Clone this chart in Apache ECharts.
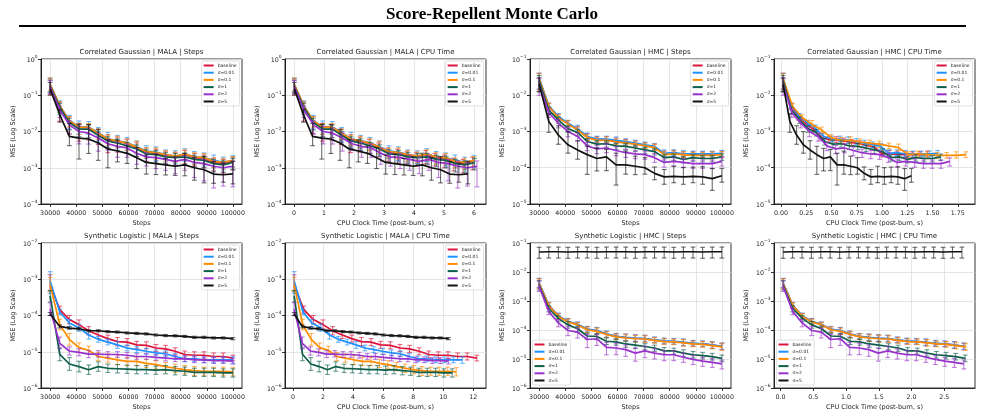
<!DOCTYPE html>
<html><head><meta charset="utf-8">
<script src="https://cdn.jsdelivr.net/npm/echarts/dist/echarts.min.js"></script>
<style>html,body{margin:0;padding:0;background:#fff}#main{width:985px;height:420px}</style>
</head><body><div id="main"></div>
<script>
// ---------------- DATA ----------------
const seriesNames = ['baseline', 'σ=0.01', 'σ=0.1', 'σ=1', 'σ=2', 'σ=5'];
const steps = [30000, 33684, 37368, 41053, 44737, 48421, 52105, 55789, 59474, 63158, 66842, 70526, 74211, 77895, 81579, 85263, 88947, 92632, 96316, 100000];
const stepTicks = [30000, 40000, 50000, 60000, 70000, 80000, 90000, 100000];

// Correlated Gaussian | MALA
const cgMalaMSE = [
  [0.19, 0.050, 0.019, 0.013, 0.0128, 0.0088, 0.0060, 0.0054, 0.0047, 0.0036, 0.0027, 0.0025, 0.0022, 0.0020, 0.0023, 0.0019, 0.0018, 0.0014, 0.0013, 0.0015],
  [0.20, 0.052, 0.020, 0.0135, 0.0134, 0.0092, 0.0063, 0.0056, 0.0049, 0.0038, 0.0029, 0.0027, 0.0023, 0.0021, 0.0024, 0.0020, 0.0019, 0.0016, 0.0014, 0.0016],
  [0.20, 0.051, 0.0197, 0.0132, 0.0132, 0.0090, 0.0062, 0.0055, 0.0048, 0.0037, 0.0028, 0.0026, 0.0023, 0.0021, 0.0024, 0.0020, 0.0019, 0.0015, 0.0014, 0.0016],
  [0.18, 0.046, 0.0177, 0.0116, 0.0116, 0.0078, 0.0055, 0.0048, 0.0040, 0.0033, 0.0024, 0.0023, 0.0020, 0.0019, 0.0020, 0.0017, 0.0016, 0.0013, 0.0012, 0.0014],
  [0.17, 0.039, 0.0152, 0.0100, 0.0090, 0.0066, 0.0046, 0.0039, 0.0035, 0.0025, 0.0020, 0.0019, 0.0017, 0.0015, 0.0017, 0.0014, 0.0013, 0.0011, 0.0010, 0.0011],
  [0.15, 0.029, 0.0073, 0.0066, 0.0062, 0.0048, 0.0033, 0.0029, 0.0025, 0.0019, 0.0014, 0.0013, 0.0012, 0.0011, 0.0012, 0.0010, 0.00088, 0.00067, 0.00064, 0.00068]
];
const cgMalaUp = [
  [1.5, 1.3, 1.35, 1.3, 1.25, 1.3, 1.35, 1.3, 1.3, 1.35, 1.3, 1.3, 1.25, 1.3, 1.3, 1.3, 1.25, 1.3, 1.3, 1.3],
  [1.5, 1.35, 1.4, 1.45, 1.4, 1.4, 1.5, 1.4, 1.4, 1.45, 1.4, 1.4, 1.35, 1.4, 1.4, 1.4, 1.35, 1.4, 1.4, 1.35],
  [1.5, 1.3, 1.3, 1.25, 1.25, 1.3, 1.3, 1.35, 1.3, 1.45, 1.25, 1.35, 1.3, 1.3, 1.3, 1.3, 1.3, 1.25, 1.3, 1.25],
  [1.45, 1.3, 1.3, 1.35, 1.3, 1.3, 1.3, 1.3, 1.25, 1.3, 1.3, 1.3, 1.3, 1.3, 1.25, 1.3, 1.3, 1.3, 1.3, 1.3],
  [1.5, 1.3, 1.3, 1.4, 1.4, 1.4, 1.3, 1.3, 1.3, 1.4, 1.3, 1.3, 1.3, 1.3, 1.3, 1.4, 1.3, 1.4, 1.4, 1.4],
  [1.5, 1.4, 2.3, 2.4, 2.5, 2.4, 1.8, 2.0, 1.6, 1.9, 1.6, 1.8, 1.5, 1.8, 2.1, 1.9, 2.3, 2.2, 2.1, 2.2]
];
const cgMalaDn = [
  [1.8, 2.6, 2.2, 2.4, 2.2, 2.0, 2.3, 2.0, 1.9, 1.8, 1.8, 1.9, 1.7, 1.8, 1.8, 1.7, 1.8, 1.7, 1.8, 1.7],
  [1.6, 1.6, 1.7, 1.6, 1.6, 1.7, 1.7, 1.6, 1.6, 1.6, 1.6, 1.7, 1.6, 1.6, 1.6, 1.6, 1.7, 1.6, 1.6, 1.6],
  [1.5, 1.5, 1.5, 1.6, 1.5, 1.5, 1.5, 1.5, 1.6, 1.5, 1.5, 1.5, 1.5, 1.5, 1.5, 1.6, 1.5, 1.5, 1.5, 1.5],
  [1.5, 1.6, 1.6, 1.6, 1.7, 1.6, 1.6, 1.6, 1.6, 1.6, 1.7, 1.6, 1.6, 1.6, 1.6, 1.6, 1.6, 1.7, 1.6, 1.6],
  [1.5, 1.6, 1.8, 2.2, 2.0, 2.3, 1.5, 2.0, 1.8, 2.0, 1.8, 2.0, 2.0, 2.2, 2.0, 2.6, 3.0, 4.0, 3.2, 3.7],
  [1.5, 1.6, 1.8, 3.8, 2.5, 3.0, 3.3, 2.0, 1.9, 2.0, 2.1, 2.0, 1.9, 1.8, 2.0, 2.2, 2.3, 1.8, 1.6, 1.9]
];
const cgMalaCpuStart = 0.01;
const cgMalaCpuEnd = [5.95, 6.0, 6.0, 6.02, 6.1, 5.8];

// Correlated Gaussian | HMC
const cgHmcMSE = [
  [0.029, 0.0050, 0.0025, 0.00165, 0.00115, 0.00070, 0.00060, 0.00060, 0.00055, 0.00050, 0.00046, 0.00041, 0.00037, 0.00024, 0.00025, 0.00023, 0.00023, 0.00023, 0.00023, 0.00024],
  [0.030, 0.0051, 0.0026, 0.0017, 0.0012, 0.00073, 0.00062, 0.00062, 0.00057, 0.00053, 0.00048, 0.00043, 0.00039, 0.00025, 0.00026, 0.00024, 0.00024, 0.00024, 0.00024, 0.00025],
  [0.028, 0.0049, 0.0024, 0.0016, 0.0011, 0.00068, 0.00057, 0.00057, 0.00052, 0.00048, 0.00045, 0.00040, 0.00036, 0.00023, 0.00024, 0.00023, 0.00022, 0.00022, 0.00022, 0.00023],
  [0.025, 0.0039, 0.0021, 0.0012, 0.00094, 0.00053, 0.00045, 0.00046, 0.00040, 0.00039, 0.00035, 0.00031, 0.00028, 0.00019, 0.00020, 0.00017, 0.00019, 0.00018, 0.00018, 0.00020],
  [0.020, 0.0033, 0.0017, 0.0010, 0.00073, 0.00040, 0.00033, 0.00035, 0.00030, 0.00026, 0.00024, 0.00023, 0.00019, 0.00014, 0.00015, 0.00014, 0.00013, 0.00013, 0.00013, 0.00015],
  [0.020, 0.0019, 0.00080, 0.00043, 0.00031, 0.00023, 0.00018, 0.00020, 0.00012, 0.00012, 0.00011, 0.00010, 0.000070, 0.000056, 0.000058, 0.000056, 0.000058, 0.000056, 0.000050, 0.000060]
];
const cgHmcUp = [
  [1.4, 1.2, 1.2, 1.2, 1.2, 1.25, 1.2, 1.2, 1.2, 1.2, 1.2, 1.2, 1.2, 1.2, 1.2, 1.2, 1.2, 1.2, 1.2, 1.2],
  [1.35, 1.2, 1.2, 1.2, 1.25, 1.25, 1.2, 1.2, 1.25, 1.2, 1.2, 1.2, 1.2, 1.25, 1.2, 1.25, 1.2, 1.2, 1.2, 1.2],
  [1.4, 1.2, 1.2, 1.25, 1.2, 1.2, 1.2, 1.25, 1.2, 1.2, 1.2, 1.2, 1.25, 1.2, 1.2, 1.2, 1.2, 1.2, 1.25, 1.2],
  [1.4, 1.2, 1.2, 1.2, 1.2, 1.2, 1.25, 1.2, 1.2, 1.2, 1.2, 1.2, 1.2, 1.2, 1.2, 1.2, 1.2, 1.2, 1.2, 1.2],
  [1.5, 1.25, 1.25, 1.3, 1.25, 1.25, 1.25, 1.3, 1.25, 1.25, 1.25, 1.25, 1.3, 1.25, 1.25, 1.25, 1.25, 1.25, 1.25, 1.25],
  [1.5, 1.6, 1.8, 2.3, 1.8, 1.7, 1.9, 1.6, 2.1, 2.4, 1.9, 1.9, 1.5, 1.6, 1.9, 1.8, 1.8, 1.9, 1.9, 1.6]
];
const cgHmcDn = [
  [2.0, 1.2, 1.2, 1.2, 1.2, 1.2, 1.2, 1.2, 1.2, 1.2, 1.2, 1.2, 1.2, 1.2, 1.2, 1.2, 1.2, 1.2, 1.2, 1.2],
  [2.0, 1.2, 1.2, 1.2, 1.2, 1.25, 1.2, 1.2, 1.2, 1.2, 1.2, 1.2, 1.2, 1.2, 1.2, 1.2, 1.2, 1.2, 1.2, 1.2],
  [2.0, 1.2, 1.25, 1.2, 1.2, 1.2, 1.2, 1.2, 1.2, 1.2, 1.25, 1.2, 1.2, 1.2, 1.2, 1.2, 1.2, 1.2, 1.2, 1.2],
  [2.0, 1.25, 1.25, 1.25, 1.25, 1.25, 1.25, 1.25, 1.25, 1.25, 1.25, 1.25, 1.25, 1.25, 1.25, 1.25, 1.25, 1.25, 1.25, 1.25],
  [2.0, 1.35, 1.35, 1.4, 1.35, 1.35, 1.35, 1.35, 1.4, 1.35, 1.35, 1.35, 1.35, 1.35, 1.35, 1.35, 1.35, 1.35, 1.35, 1.35],
  [1.6, 2.0, 1.8, 1.7, 1.8, 3.5, 2.2, 2.4, 3.6, 1.8, 1.7, 1.5, 1.5, 1.6, 1.5, 1.6, 1.5, 1.6, 2.1, 1.5]
];
const cgHmcCpuStart = 0.02;
const cgHmcCpuEnd = [1.45, 1.55, 1.83, 1.58, 1.67, 1.29];

// Synthetic Logistic | MALA
const slMalaMSE = [
  [7.0e-4, 1.45e-4, 7.7e-5, 5.6e-5, 3.8e-5, 2.9e-5, 2.3e-5, 1.9e-5, 1.85e-5, 1.55e-5, 1.5e-5, 1.27e-5, 1.2e-5, 1.03e-5, 8.4e-6, 8.0e-6, 8.0e-6, 7.4e-6, 7.4e-6, 6.7e-6],
  [9.0e-4, 1.25e-4, 6.2e-5, 4.6e-5, 2.9e-5, 2.2e-5, 1.85e-5, 1.55e-5, 1.27e-5, 1.15e-5, 1.03e-5, 9.3e-6, 8.8e-6, 7.4e-6, 6.4e-6, 6.4e-6, 6.0e-6, 6.0e-6, 6.0e-6, 6.0e-6],
  [7.0e-4, 5.6e-5, 2.2e-5, 1.3e-5, 1.1e-5, 7.4e-6, 6.7e-6, 6.0e-6, 5.4e-6, 5.4e-6, 4.8e-6, 4.4e-6, 3.9e-6, 3.5e-6, 3.2e-6, 3.0e-6, 2.9e-6, 2.9e-6, 2.9e-6, 2.8e-6],
  [3.5e-4, 8.5e-6, 4.6e-6, 3.9e-6, 3.2e-6, 3.9e-6, 3.5e-6, 3.4e-6, 3.3e-6, 3.2e-6, 3.2e-6, 3.1e-6, 3.2e-6, 3.0e-6, 2.9e-6, 2.7e-6, 2.7e-6, 2.7e-6, 2.6e-6, 2.6e-6],
  [1.5e-4, 1.7e-5, 1.05e-5, 9.6e-6, 8.6e-6, 8.6e-6, 8.4e-6, 8.4e-6, 8.0e-6, 7.4e-6, 7.4e-6, 7.0e-6, 6.7e-6, 6.4e-6, 6.4e-6, 6.0e-6, 6.0e-6, 5.7e-6, 5.7e-6, 5.5e-6],
  [1.1e-4, 5.0e-5, 4.5e-5, 4.3e-5, 3.8e-5, 3.8e-5, 3.6e-5, 3.5e-5, 3.3e-5, 3.2e-5, 3.1e-5, 2.9e-5, 2.8e-5, 2.75e-5, 2.65e-5, 2.5e-5, 2.5e-5, 2.4e-5, 2.4e-5, 2.3e-5]
];
const slMalaUp = [
  [1.9, 1.25, 1.3, 1.35, 1.3, 1.25, 1.25, 1.3, 1.25, 1.25, 1.25, 1.25, 1.25, 1.25, 1.25, 1.25, 1.25, 1.25, 1.25, 1.2],
  [1.8, 1.2, 1.25, 1.25, 1.3, 1.2, 1.2, 1.25, 1.2, 1.2, 1.2, 1.2, 1.2, 1.2, 1.2, 1.2, 1.2, 1.2, 1.2, 1.2],
  [1.6, 1.4, 1.45, 1.35, 1.3, 1.3, 1.3, 1.35, 1.3, 1.3, 1.3, 1.3, 1.3, 1.3, 1.3, 1.3, 1.3, 1.3, 1.3, 1.3],
  [1.4, 1.5, 1.5, 1.4, 1.35, 1.35, 1.3, 1.3, 1.3, 1.3, 1.3, 1.3, 1.3, 1.3, 1.3, 1.3, 1.3, 1.3, 1.3, 1.3],
  [1.5, 1.5, 1.3, 1.25, 1.25, 1.25, 1.2, 1.2, 1.2, 1.2, 1.2, 1.2, 1.2, 1.2, 1.2, 1.2, 1.2, 1.2, 1.2, 1.2],
  [1.1, 1.1, 1.08, 1.08, 1.07, 1.07, 1.07, 1.07, 1.07, 1.07, 1.07, 1.07, 1.07, 1.07, 1.07, 1.07, 1.07, 1.07, 1.07, 1.07]
];
const slMalaDn = [
  [1.5, 1.25, 1.3, 1.3, 1.3, 1.25, 1.25, 1.3, 1.25, 1.25, 1.25, 1.25, 1.25, 1.25, 1.25, 1.25, 1.25, 1.25, 1.25, 1.2],
  [2.2, 1.2, 1.25, 1.25, 1.3, 1.2, 1.2, 1.25, 1.2, 1.2, 1.2, 1.2, 1.2, 1.2, 1.2, 1.2, 1.2, 1.2, 1.2, 1.25],
  [1.5, 1.4, 1.45, 1.35, 1.3, 1.3, 1.3, 1.35, 1.3, 1.3, 1.3, 1.3, 1.3, 1.3, 1.3, 1.35, 1.3, 1.3, 1.3, 1.3],
  [1.5, 1.5, 1.5, 1.4, 1.35, 1.35, 1.3, 1.3, 1.3, 1.3, 1.3, 1.3, 1.3, 1.3, 1.3, 1.3, 1.3, 1.3, 1.3, 1.3],
  [1.5, 1.4, 1.3, 1.25, 1.25, 1.2, 1.2, 1.2, 1.2, 1.2, 1.2, 1.2, 1.2, 1.2, 1.2, 1.2, 1.2, 1.2, 1.2, 1.2],
  [1.1, 1.1, 1.08, 1.08, 1.07, 1.07, 1.07, 1.07, 1.07, 1.07, 1.07, 1.07, 1.07, 1.07, 1.07, 1.07, 1.07, 1.07, 1.07, 1.07]
];
const slMalaCpuStart = 0.08;
const slMalaCpuEnd = [12.24, 11.27, 10.87, 10.6, 10.35, 10.35];

// Synthetic Logistic | HMC
const slHmcMSE = [
  [4.1e-3, 7.1e-4, 3.0e-4, 1.95e-4, 1.55e-4, 1.05e-4, 9.3e-5, 7.2e-5, 6.0e-5, 5.5e-5, 5.2e-5, 5.0e-5, 4.5e-5, 4.1e-5, 4.0e-5, 3.7e-5, 3.4e-5, 3.3e-5, 3.0e-5, 2.7e-5],
  [4.2e-3, 7.2e-4, 3.05e-4, 2.0e-4, 1.58e-4, 1.07e-4, 9.5e-5, 7.4e-5, 6.1e-5, 5.6e-5, 5.3e-5, 5.1e-5, 4.6e-5, 4.2e-5, 4.1e-5, 3.8e-5, 3.5e-5, 3.35e-5, 3.05e-5, 2.75e-5],
  [4.0e-3, 6.9e-4, 2.9e-4, 1.9e-4, 1.5e-4, 1.02e-4, 9.0e-5, 7.0e-5, 5.8e-5, 5.3e-5, 5.0e-5, 4.9e-5, 4.4e-5, 4.0e-5, 3.9e-5, 3.6e-5, 3.3e-5, 3.2e-5, 2.9e-5, 2.6e-5],
  [3.5e-3, 5.5e-4, 2.5e-4, 1.5e-4, 1.1e-4, 6.2e-5, 6.0e-5, 4.1e-5, 3.9e-5, 3.3e-5, 3.0e-5, 2.7e-5, 2.4e-5, 1.9e-5, 1.9e-5, 1.6e-5, 1.4e-5, 1.3e-5, 1.2e-5, 1.05e-5],
  [3.2e-3, 4.4e-4, 1.75e-4, 9.6e-5, 8.5e-5, 4.7e-5, 5.0e-5, 2.5e-5, 2.4e-5, 2.1e-5, 1.6e-5, 1.9e-5, 1.6e-5, 1.4e-5, 1.4e-5, 1.15e-5, 9.7e-6, 8.4e-6, 7.7e-6, 6.8e-6],
  [0.049, 0.050, 0.050, 0.049, 0.050, 0.050, 0.049, 0.050, 0.050, 0.050, 0.049, 0.050, 0.050, 0.050, 0.049, 0.050, 0.050, 0.049, 0.050, 0.050]
];
const slHmcUp = [
  [1.45, 1.25, 1.25, 1.25, 1.2, 1.25, 1.3, 1.25, 1.25, 1.3, 1.3, 1.3, 1.25, 1.25, 1.25, 1.3, 1.25, 1.25, 1.3, 1.3],
  [1.45, 1.25, 1.25, 1.25, 1.2, 1.25, 1.3, 1.25, 1.25, 1.3, 1.3, 1.3, 1.25, 1.25, 1.25, 1.3, 1.25, 1.25, 1.3, 1.3],
  [1.45, 1.25, 1.25, 1.25, 1.2, 1.25, 1.3, 1.25, 1.25, 1.3, 1.3, 1.3, 1.25, 1.25, 1.25, 1.3, 1.25, 1.25, 1.3, 1.3],
  [1.45, 1.25, 1.25, 1.3, 1.25, 1.25, 1.25, 1.3, 1.25, 1.25, 1.3, 1.25, 1.25, 1.3, 1.25, 1.3, 1.3, 1.3, 1.3, 1.3],
  [1.5, 1.3, 1.3, 1.4, 1.35, 1.5, 1.4, 1.5, 1.45, 1.45, 1.5, 1.45, 1.4, 1.4, 1.4, 1.4, 1.35, 1.35, 1.35, 1.35],
  [1.45, 1.45, 1.45, 1.45, 1.45, 1.45, 1.45, 1.45, 1.45, 1.45, 1.45, 1.45, 1.45, 1.45, 1.45, 1.45, 1.45, 1.45, 1.45, 1.45]
];
const slHmcDn = [
  [1.45, 1.25, 1.25, 1.25, 1.25, 1.25, 1.3, 1.3, 1.25, 1.3, 1.3, 1.3, 1.25, 1.25, 1.25, 1.3, 1.25, 1.25, 1.3, 1.3],
  [1.45, 1.25, 1.25, 1.25, 1.25, 1.25, 1.3, 1.3, 1.25, 1.3, 1.3, 1.3, 1.25, 1.25, 1.25, 1.3, 1.25, 1.25, 1.3, 1.3],
  [1.45, 1.25, 1.25, 1.25, 1.25, 1.25, 1.3, 1.3, 1.25, 1.3, 1.3, 1.3, 1.25, 1.25, 1.25, 1.3, 1.25, 1.25, 1.3, 1.3],
  [1.45, 1.3, 1.3, 1.3, 1.3, 1.3, 1.3, 1.3, 1.3, 1.3, 1.3, 1.3, 1.3, 1.3, 1.3, 1.3, 1.3, 1.3, 1.3, 1.3],
  [1.5, 1.3, 1.35, 1.5, 1.6, 1.9, 1.7, 1.8, 1.7, 1.7, 1.9, 1.7, 1.6, 1.6, 1.6, 1.5, 1.5, 1.5, 1.5, 1.5],
  [1.65, 1.65, 1.65, 1.65, 1.65, 1.65, 1.65, 1.65, 1.65, 1.65, 1.65, 1.65, 1.65, 1.65, 1.65, 1.65, 1.65, 1.65, 1.65, 1.65]
];
const slHmcCpuStart = 0.04;
const slHmcCpuEnd = [2.8, 2.8, 2.83, 2.82, 2.8, 2.77];

// ---------------- STYLE / LAYOUT ----------------
const seriesColors = ['#dc143c', '#1e90ff', '#ff8c00', '#0f5e4a', '#9932cc', '#111111'];
const FONT = 'DejaVu Sans';
const colLeft = [41, 285, 530, 774];
const rowTop = [59, 243];
const plotW = 201, plotH = 145;

const panels = [
  {title: 'Correlated Gaussian | MALA | Steps', mse: cgMalaMSE, up: cgMalaUp, dn: cgMalaDn, cpu: null, yMin: 1e-4, yMax: 1, xMin: 26500, xMax: 103500, ticks: stepTicks, dec: 0, xName: 'Steps', leg: 'ur'},
  {title: 'Correlated Gaussian | MALA | CPU Time', mse: cgMalaMSE, up: cgMalaUp, dn: cgMalaDn, cpu: [cgMalaCpuStart, cgMalaCpuEnd], yMin: 1e-4, yMax: 1, xMin: -0.3, xMax: 6.4, ticks: [0, 1, 2, 3, 4, 5, 6], dec: 0, xName: 'CPU Clock Time (post-burn, s)', leg: 'ur'},
  {title: 'Correlated Gaussian | HMC | Steps', mse: cgHmcMSE, up: cgHmcUp, dn: cgHmcDn, cpu: null, yMin: 1e-5, yMax: 1e-1, xMin: 26500, xMax: 103500, ticks: stepTicks, dec: 0, xName: 'Steps', leg: 'ur'},
  {title: 'Correlated Gaussian | HMC | CPU Time', mse: cgHmcMSE, up: cgHmcUp, dn: cgHmcDn, cpu: [cgHmcCpuStart, cgHmcCpuEnd], yMin: 1e-5, yMax: 1e-1, xMin: -0.07, xMax: 1.92, ticks: [0, 0.25, 0.5, 0.75, 1, 1.25, 1.5, 1.75], dec: 2, xName: 'CPU Clock Time (post-burn, s)', leg: 'ur'},
  {title: 'Synthetic Logistic | MALA | Steps', mse: slMalaMSE, up: slMalaUp, dn: slMalaDn, cpu: null, yMin: 1e-6, yMax: 1e-2, xMin: 26500, xMax: 103500, ticks: stepTicks, dec: 0, xName: 'Steps', leg: 'ur'},
  {title: 'Synthetic Logistic | MALA | CPU Time', mse: slMalaMSE, up: slMalaUp, dn: slMalaDn, cpu: [slMalaCpuStart, slMalaCpuEnd], yMin: 1e-6, yMax: 1e-2, xMin: -0.53, xMax: 12.85, ticks: [0, 2, 4, 6, 8, 10, 12], dec: 0, xName: 'CPU Clock Time (post-burn, s)', leg: 'ur'},
  {title: 'Synthetic Logistic | HMC | Steps', mse: slHmcMSE, up: slHmcUp, dn: slHmcDn, cpu: null, yMin: 1e-6, yMax: 1e-1, xMin: 26500, xMax: 103500, ticks: stepTicks, dec: 0, xName: 'Steps', leg: 'll'},
  {title: 'Synthetic Logistic | HMC | CPU Time', mse: slHmcMSE, up: slHmcUp, dn: slHmcDn, cpu: [slHmcCpuStart, slHmcCpuEnd], yMin: 1e-6, yMax: 1e-1, xMin: -0.1, xMax: 2.97, ticks: [0, 0.5, 1, 1.5, 2, 2.5], dec: 1, xName: 'CPU Clock Time (post-burn, s)', leg: 'll'}
];

const grids = [], xAxes = [], yAxes = [], series = [], legends = [], graphics = [];

graphics.push({type: 'text', x: 492, y: 15, z: 100, style: {text: 'Score-Repellent Monte Carlo', font: 'bold 17px "Liberation Serif"', fill: '#000', align: 'center', verticalAlign: 'middle'}});
graphics.push({type: 'line', z: 100, shape: {x1: 19, y1: 26, x2: 966, y2: 26}, style: {stroke: '#000', lineWidth: 2}});

panels.forEach((p, pi) => {
  const left = colLeft[pi % 4], top = rowTop[Math.floor(pi / 4)];
  grids.push({left: left, top: top, width: plotW, height: plotH, show: true, borderColor: '#000', borderWidth: 0.8, backgroundColor: '#fff', containLabel: false});
  xAxes.push({
    type: 'value', gridIndex: pi, min: p.xMin, max: p.xMax,
    name: p.xName, nameLocation: 'middle', nameGap: 15.5,
    nameTextStyle: {fontFamily: FONT, fontSize: 6.5, color: '#222'},
    axisLine: {show: true, onZero: false, lineStyle: {color: '#000', width: 0.8}},
    axisTick: {show: true, length: 3, lineStyle: {color: '#000', width: 0.8}, customValues: p.ticks},
    axisLabel: {customValues: p.ticks, fontFamily: FONT, fontSize: 6.3, color: '#222', margin: 6.5, formatter: v => Number(v).toFixed(p.dec)},
    splitLine: {show: true, lineStyle: {color: '#dedede', width: 0.8}}
  });
  yAxes.push({
    type: 'log', logBase: 10, gridIndex: pi, min: p.yMin, max: p.yMax,
    name: 'MSE (Log Scale)', nameLocation: 'middle', nameGap: 24, nameRotate: 90,
    nameTextStyle: {fontFamily: FONT, fontSize: 6.5, color: '#222'},
    axisLine: {show: true, onZero: false, lineStyle: {color: '#000', width: 0.8}},
    axisTick: {show: true, length: 3, lineStyle: {color: '#000', width: 0.8}},
    axisLabel: {
      margin: 3.5,
      formatter: v => { const e = Math.round(Math.log10(v)); return '{b|10}{s|' + (e < 0 ? '\u2212' : '') + Math.abs(e) + '}'; },
      rich: {
        b: {fontFamily: FONT, fontSize: 6.3, color: '#222', verticalAlign: 'bottom', lineHeight: 8.5},
        s: {fontFamily: FONT, fontSize: 4.4, color: '#222', verticalAlign: 'top', lineHeight: 8.5}
      }
    },
    splitLine: {show: true, lineStyle: {color: '#dedede', width: 0.8}}
  });
  graphics.push({type: 'text', x: left + plotW / 2, y: top - 6.5, z: 100, style: {text: p.title, font: '7px "DejaVu Sans"', fill: '#222', align: 'center', verticalAlign: 'middle'}});

  seriesNames.forEach((name, si) => {
    const col = seriesColors[si];
    const xs = steps.map(s => p.cpu ? p.cpu[0] + (p.cpu[1][si] - p.cpu[0]) * (s - 30000) / 70000 : s);
    const vals = p.mse[si];
    const errData = vals.map((v, k) => [xs[k], v / p.dn[si][k], v * p.up[si][k]]);
    series.push({
      type: 'custom', name: name + '_err', xAxisIndex: pi, yAxisIndex: pi, z: 3 + si * 2, silent: true,
      encode: {x: 0, y: [1, 2]}, data: errData,
      renderItem: (params, api) => {
        const x = api.value(0);
        const a = api.coord([x, api.value(1)]), b = api.coord([x, api.value(2)]);
        const w = 2.4;
        const st = {stroke: col, lineWidth: 1.1, opacity: 0.62};
        return {type: 'group', children: [
          {type: 'line', shape: {x1: a[0], y1: a[1], x2: b[0], y2: b[1]}, style: st},
          {type: 'line', shape: {x1: a[0] - w, y1: a[1], x2: a[0] + w, y2: a[1]}, style: st},
          {type: 'line', shape: {x1: b[0] - w, y1: b[1], x2: b[0] + w, y2: b[1]}, style: st}
        ]};
      }
    });
    series.push({
      type: 'line', name: name, xAxisIndex: pi, yAxisIndex: pi, z: 4 + si * 2, silent: true,
      showSymbol: false, symbol: 'none', animation: false,
      lineStyle: {color: col, width: 1.7}, itemStyle: {color: col},
      data: vals.map((v, k) => [xs[k], v])
    });
  });

  const leg = {
    orient: 'vertical', selectedMode: false, icon: 'rect', itemWidth: 10, itemHeight: 2, itemGap: 2.2,
    textStyle: {fontFamily: FONT, fontSize: 4.5, color: '#222', padding: [0, 0, 0, -1]},
    padding: [2, 3, 2, 2], borderColor: '#cccccc', borderWidth: 0.6, borderRadius: 1.5,
    backgroundColor: 'rgba(255,255,255,0.85)', z: 50,
    data: seriesNames.map(n => ({name: n, itemStyle: {color: seriesColors[seriesNames.indexOf(n)]}}))
  };
  if (p.leg === 'ur') { leg.right = 985 - (left + plotW) + 2.5; leg.top = top + 2; }
  else { leg.left = left + 2.5; leg.bottom = 420 - (top + plotH) + 3; }
  legends.push(leg);
});

const chart = echarts.init(document.getElementById('main'), null, {renderer: 'canvas'});
chart.setOption({
  animation: false,
  backgroundColor: '#fff',
  grid: grids, xAxis: xAxes, yAxis: yAxes, series: series, legend: legends, graphic: graphics
});
</script></body></html>
